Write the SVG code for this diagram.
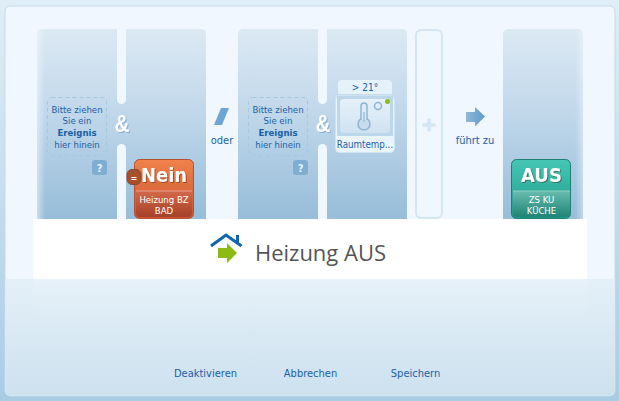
<svg xmlns="http://www.w3.org/2000/svg" width="619" height="401" viewBox="0 0 619 401">
<style>
text{font-family:"DejaVu Sans Condensed","DejaVu Sans",sans-serif;text-anchor:middle}
.b{fill:#1a5fa6;font-size:11px}
.s{fill:#1a5fa6;font-size:9.500px}
.sb{fill:#1a5fa6;font-size:9.500px;font-weight:700}
.gap{fill:#f0f7fe}
.drop{fill:none;stroke:#a6c8df;stroke-dasharray:4 3}
.q{fill:#80aed2}
.qt{fill:#e8f2fa;font-size:11px;font-weight:700}
.amp{fill:#fff;font-size:24px;font-weight:700;font-family:"Liberation Sans",sans-serif;filter:drop-shadow(1px 1px 0 rgba(90,140,190,.5))}
.big{fill:#fff;font-size:20px;font-weight:700;filter:drop-shadow(1px 1px 0 rgba(70,30,10,.45))}
.sub{fill:#fff;font-size:9.500px}
</style>
<defs>
<linearGradient id="bg" x1="0" y1="0" x2="0" y2="1"><stop offset="0" stop-color="#dfeef7"/><stop offset="1" stop-color="#a9cce3"/></linearGradient>
<linearGradient id="low" x1="0" y1="0" x2="0" y2="1"><stop offset="0" stop-color="#e4f0f8"/><stop offset="1" stop-color="#cde1ef"/></linearGradient>
<linearGradient id="col" x1="0" y1="0" x2="0" y2="1"><stop offset="0" stop-color="#dce9f3"/><stop offset=".45" stop-color="#c0d7ea"/><stop offset="1" stop-color="#97bdd9"/></linearGradient>
<linearGradient id="edgeL" x1="0" y1="0" x2="1" y2="0"><stop offset="0" stop-color="#f0f7fe" stop-opacity=".55"/><stop offset="1" stop-color="#f0f7fe" stop-opacity="0"/></linearGradient>
<linearGradient id="edgeR" x1="0" y1="0" x2="1" y2="0"><stop offset="0" stop-color="#f0f7fe" stop-opacity="0"/><stop offset="1" stop-color="#f0f7fe" stop-opacity=".45"/></linearGradient>
<linearGradient id="fade" x1="0" y1="0" x2="0" y2="1"><stop offset="0" stop-color="#fff" stop-opacity=".1"/><stop offset="1" stop-color="#fff" stop-opacity="0"/></linearGradient>
<linearGradient id="org" x1="0" y1="0" x2="0" y2="1"><stop offset="0" stop-color="#f0824c"/><stop offset="1" stop-color="#c9542f"/></linearGradient>
<linearGradient id="orgS" x1="0" y1="0" x2="0" y2="1"><stop offset="0" stop-color="#d2694a"/><stop offset="1" stop-color="#a5412a"/></linearGradient>
<linearGradient id="grn" x1="0" y1="0" x2="0" y2="1"><stop offset="0" stop-color="#45c7b5"/><stop offset="1" stop-color="#1f9a88"/></linearGradient>
<linearGradient id="grnS" x1="0" y1="0" x2="0" y2="1"><stop offset="0" stop-color="#68bcae"/><stop offset="1" stop-color="#1f8476"/></linearGradient>
<linearGradient id="arw" x1="0" y1="0" x2="1" y2="0"><stop offset="0" stop-color="#8fb9da"/><stop offset="1" stop-color="#5d9ac8"/></linearGradient>
<linearGradient id="tile" x1="0" y1="0" x2="0" y2="1"><stop offset="0" stop-color="#e6f1f9"/><stop offset="1" stop-color="#cfe2f1"/></linearGradient>
</defs>

<rect id="backdrop" width="619" height="401" fill="url(#bg)"/>
<g id="panel">
<rect x="5" y="6" width="610" height="390" rx="5" fill="#f0f7fe" stroke="#c3dbeb"/>
<path d="M5.500 279H614.500V391a4.500 4.500 0 0 1-4.500 4.500H10a4.500 4.500 0 0 1-4.500-4.500Z" fill="url(#low)"/>
</g>

<g id="columns">
<path d="M37 219V34a5 5 0 0 1 5-5H201a5 5 0 0 1 5 5V219Z" fill="url(#col)"/>
<path d="M238 219V34a5 5 0 0 1 5-5H402a5 5 0 0 1 5 5V219Z" fill="url(#col)"/>
<path d="M503 219V34a5 5 0 0 1 5-5H578a5 5 0 0 1 5 5V219Z" fill="url(#col)"/>
<rect x="37" y="29" width="8" height="190" fill="url(#edgeL)"/>
<rect x="575" y="29" width="8" height="190" fill="url(#edgeR)"/>
<path class="gap" d="M117 29H126V99.500a4.500 4.500 0 0 1-9 0Z"/>
<path class="gap" d="M117 219H126V148.500a4.500 4.500 0 0 0-9 0Z"/>
<path class="gap" d="M318 29H327V99.500a4.500 4.500 0 0 1-9 0Z"/>
<path class="gap" d="M318 219H327V148.500a4.500 4.500 0 0 0-9 0Z"/>
</g>

<g id="connectors">
<text class="amp" x="122" y="132" textLength="15" lengthAdjust="spacingAndGlyphs">&amp;</text>
<text class="amp" x="323" y="132" textLength="15" lengthAdjust="spacingAndGlyphs">&amp;</text>
</g>

<g id="drop1">
<rect x="47.500" y="97.500" width="59" height="58" rx="4" class="drop"/>
<text class="s" x="77" y="113">Bitte ziehen</text>
<text class="s" x="77" y="124">Sie ein</text>
<text class="sb" x="77" y="136">Ereignis</text>
<text class="s" x="77" y="148">hier hinein</text>
<rect x="92" y="160" width="15" height="15" rx="3" class="q"/>
<text class="qt" x="99.500" y="172">?</text>
</g>

<g id="nein">
<rect x="134.500" y="159.500" width="59" height="59" rx="5" fill="url(#org)" stroke="#b5512f"/>
<path d="M136 191H192V213a4 4 0 0 1-4 4H140a4 4 0 0 1-4-4Z" fill="url(#orgS)"/>
<path d="M136 191H192" stroke="#e8a088"/>
<text class="big" x="164" y="182">Nein</text>
<text class="sub" x="164" y="203">Heizung BZ</text>
<text class="sub" x="164" y="213.500">BAD</text>
<rect x="127" y="169.500" width="14" height="15" rx="5" fill="#a84f2c" stroke="#8a4a35"/>
<text x="134" y="180.500" fill="#fff" font-size="9" font-weight="700">=</text>
</g>

<g id="oder">
<path d="M221 108H229L222 125H214Z" fill="#6ea6d2"/>
<text class="b" x="222" y="144">oder</text>
</g>

<g id="drop2">
<rect x="248.500" y="97.500" width="59" height="58" rx="4" class="drop"/>
<text class="s" x="278" y="113">Bitte ziehen</text>
<text class="s" x="278" y="124">Sie ein</text>
<text class="sb" x="278" y="136">Ereignis</text>
<text class="s" x="278" y="148">hier hinein</text>
<rect x="293" y="160" width="15" height="15" rx="3" class="q"/>
<text class="qt" x="300.500" y="172">?</text>
</g>

<g id="raumtemp">
<path d="M338 94V84a4 4 0 0 1 4-4H388a4 4 0 0 1 4 4V94Z" fill="#e6f2fa"/>
<text x="365" y="90.500" fill="#1a5fa6" font-size="10">&gt; 21°</text>
<rect x="335.500" y="95.500" width="59" height="57" rx="4" fill="#eaf4fb" stroke="#cfe3f1"/>
<rect x="337" y="96" width="56" height="40" fill="#bcd7ea"/>
<rect x="340" y="99" width="50" height="34" rx="4" fill="url(#tile)"/>
<circle cx="364" cy="124" r="6" fill="#c6dcec" stroke="#8db6d4" stroke-width="1.500"/>
<path d="M361 120V106a3 3 0 0 1 6 0V120" fill="#dcebf5" stroke="#8db6d4" stroke-width="1.500"/>
<rect x="363" y="112" width="2" height="10" fill="#a9cbe2"/>
<circle cx="378" cy="106" r="3.500" fill="none" stroke="#8db6d4" stroke-width="1.500"/>
<circle cx="387.500" cy="101.500" r="2.500" fill="#8dbb1c"/>
<text x="365" y="148" fill="#1a5fa6" font-size="9.700">Raumtemp...</text>
</g>

<g id="plus">
<rect x="416" y="30" width="26" height="188" rx="5" fill="#f0f7fe" stroke="#d3e6f4" stroke-width="2"/>
<path d="M429 118.500V131.500M422.500 125H435.500" stroke="#d3e6f4" stroke-width="3.500" fill="none"/>
</g>

<g id="fuehrt">
<path d="M466 112H475V107L485 116.500L475 126.500V122H466Z" fill="url(#arw)"/>
<text class="b" x="475" y="144">führt zu</text>
</g>

<g id="aus">
<rect x="511.500" y="159.500" width="59" height="59" rx="5" fill="url(#grn)" stroke="#1f7f72"/>
<path d="M513 191H570V213a4 4 0 0 1-4 4H517a4 4 0 0 1-4-4Z" fill="url(#grnS)"/>
<path d="M513 191H570" stroke="#8fd0c6"/>
<text class="big" x="541.500" y="182">AUS</text>
<text class="sub" x="541.500" y="203">ZS KU</text>
<text class="sub" x="541.500" y="213.500">KÜCHE</text>
</g>

<g id="title">
<rect x="33" y="219" width="554" height="60" fill="#fff"/>
<rect x="33" y="279" width="554" height="52" fill="url(#fade)"/>
<path d="M211 246L226 235L241.500 246" fill="none" stroke="#0f66ad" stroke-width="3"/>
<path d="M236 235H239V243H236Z" fill="#0f66ad"/>
<path d="M218 248H227V243L237 253L227 263V258H218Z" fill="#8cbb14"/>
<text x="320.500" y="260.500" fill="#555" font-size="22" style="font-family:'Open Sans',sans-serif">Heizung AUS</text>
</g>

<g id="actions">
<text class="b" x="205.500" y="377">Deaktivieren</text>
<text class="b" x="310.500" y="377">Abbrechen</text>
<text class="b" x="415.500" y="377">Speichern</text>
</g>
</svg>
